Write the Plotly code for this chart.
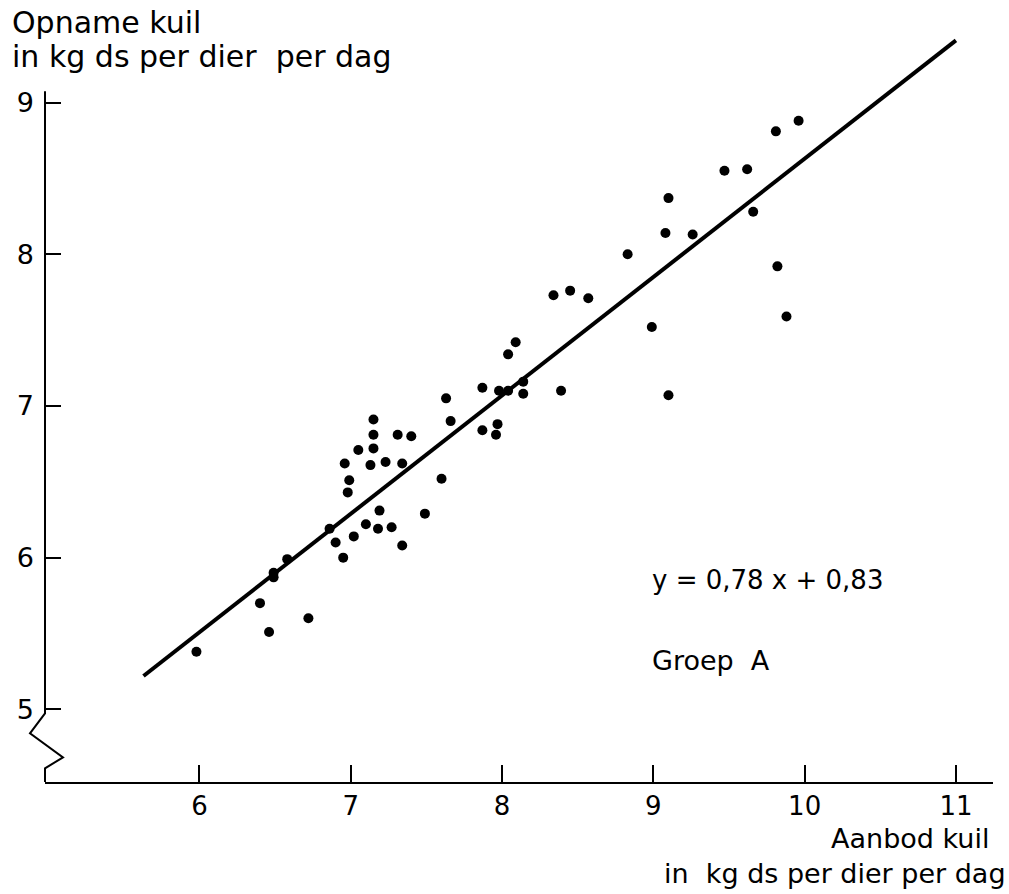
import plotly.graph_objects as go

# Data
aanbod = [5.98, 6.40, 6.46, 6.49, 6.49, 6.58, 6.72, 6.86, 6.90, 6.95,
          6.98, 6.99, 6.96, 7.02, 7.05, 7.10, 7.13, 7.15, 7.15, 7.15,
          7.19, 7.18, 7.23, 7.27, 7.34, 7.31, 7.40, 7.34, 7.49, 7.60,
          7.63, 7.66, 7.87, 7.87, 7.98, 8.04, 7.97, 7.96, 8.09, 8.04,
          8.14, 8.14, 8.39, 8.34, 8.45, 8.57, 8.83, 8.99, 9.10, 9.08,
          9.10, 9.26, 9.47, 9.62, 9.66, 9.82, 9.88, 9.81, 9.96]
opname = [5.38, 5.70, 5.51, 5.90, 5.87, 5.99, 5.60, 6.19, 6.10, 6.00,
          6.43, 6.51, 6.62, 6.14, 6.71, 6.22, 6.61, 6.72, 6.81, 6.91,
          6.31, 6.19, 6.63, 6.20, 6.62, 6.81, 6.80, 6.08, 6.29, 6.52,
          7.05, 6.90, 7.12, 6.84, 7.10, 7.10, 6.88, 6.81, 7.42, 7.34,
          7.16, 7.08, 7.10, 7.73, 7.76, 7.71, 8.00, 7.52, 7.07, 8.14,
          8.37, 8.13, 8.55, 8.56, 8.28, 7.92, 7.59, 8.81, 8.88]

line_x = [5.63, 11.0]
line_y = [5.22, 9.41]

x_ticks = [6, 7, 8, 9, 10, 11]
y_ticks = [5, 6, 7, 8, 9]

FONT = "DejaVu Sans"

fig = go.Figure()
fig.add_trace(go.Scatter(x=line_x, y=line_y, mode="lines",
                         line=dict(color="black", width=4),
                         hoverinfo="skip", showlegend=False))
fig.add_trace(go.Scatter(x=aanbod, y=opname, mode="markers",
                         marker=dict(color="black", size=10),
                         showlegend=False))

fig.update_layout(
    width=1009, height=894,
    margin=dict(l=45, r=16, t=30, b=112),
    paper_bgcolor="white", plot_bgcolor="white",
    font=dict(family=FONT, color="black", size=26),
    xaxis=dict(range=[4.979, 11.245], tickvals=x_ticks,
               ticktext=[str(v) for v in x_ticks],
               showline=True, linecolor="black", linewidth=2,
               ticks="inside", ticklen=17, tickwidth=2, tickcolor="black",
               showgrid=False, zeroline=False,
               tickfont=dict(family=FONT, size=26), ticklabelstandoff=0),
    yaxis=dict(range=[4.521, 9.478], tickvals=y_ticks,
               ticktext=[str(v) for v in y_ticks],
               showline=False,
               ticks="inside", ticklen=16, tickwidth=2, tickcolor="black",
               showgrid=False, zeroline=False,
               tickfont=dict(family=FONT, size=27), ticklabelstandoff=10),
)

# y axis line with break (zigzag)
fig.add_shape(type="path", xref="paper", yref="y",
              xsizemode="pixel", ysizemode="pixel", xanchor=0, yanchor=5,
              path="M0,618 L0,-4 L-15,-24 L18,-48 L0,-59 L0,-73",
              line=dict(color="black", width=2))

ann = []
ann.append(dict(text="Opname kuil", xref="paper", yref="paper", x=0, y=1,
                xanchor="left", yanchor="middle", xshift=-35, yshift=8,
                showarrow=False, font=dict(size=30)))
ann.append(dict(text="in kg ds per dier  per dag", xref="paper", yref="paper",
                x=0, y=1, xanchor="left", yanchor="middle", xshift=-35,
                yshift=-26, showarrow=False, font=dict(size=30)))
ann.append(dict(text="Aanbod kuil", xref="paper", yref="paper", x=1, y=0,
                xanchor="right", yanchor="middle", xshift=-2, yshift=-56,
                showarrow=False, font=dict(size=27)))
ann.append(dict(text="in  kg ds per dier per dag", xref="paper", yref="paper",
                x=1, y=0, xanchor="right", yanchor="middle", xshift=15,
                yshift=-91, showarrow=False, font=dict(size=27)))
ann.append(dict(text="y = 0,78 x + 0,83", xref="x", yref="y", x=8.98, y=5.85,
                xanchor="left", yanchor="middle", showarrow=False,
                font=dict(size=26)))
ann.append(dict(text="Groep  A", xref="x", yref="y", x=8.98, y=5.32,
                xanchor="left", yanchor="middle", showarrow=False,
                font=dict(size=27)))
fig.update_layout(annotations=ann)

fig.write_html("out.html")
